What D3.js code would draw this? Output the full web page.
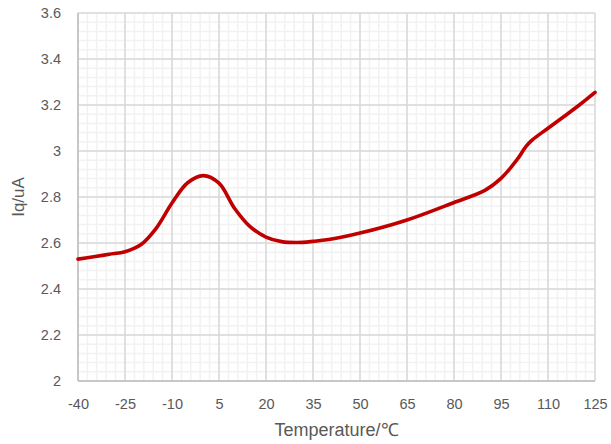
<!DOCTYPE html>
<html><head><meta charset="utf-8">
<script src="https://cdn.jsdelivr.net/npm/d3@7"></script>
<style>body{margin:0;background:#fff}svg{display:block}</style>
</head><body>
<svg id="c" width="611" height="444"></svg>
<script>
const temps = [-40,-35,-30,-25,-20,-15,-10,-5,0,5,10,15,20,25,30,35,40,50,65,80,90,95,100,103,105,110,115,120,125];
const iq    = [2.53,2.54,2.551,2.562,2.592,2.665,2.774,2.862,2.893,2.86,2.75,2.67,2.626,2.606,2.602,2.607,2.615,2.643,2.70,2.776,2.83,2.881,2.96,3.02,3.048,3.099,3.149,3.2,3.255];
const xTicks = [-40,-25,-10,5,20,35,50,65,80,95,110,125];
const yTicks = [2,2.2,2.4,2.6,2.8,3,3.2,3.4,3.6];

const svg = d3.select("#c");
const L=78, R=595, T=13, B=381;
const x = d3.scaleLinear().domain([-40,125]).range([L,R]);
const y = d3.scaleLinear().domain([2,3.6]).range([B,T]);

const g = svg.append("g");
const xMinor = d3.range(-40,125.001,3);
const yMinor = d3.range(0,41).map(i=>2+i*0.04);
g.selectAll(".mx").data(xMinor).enter().append("line")
 .attr("x1",d=>x(d)).attr("x2",d=>x(d)).attr("y1",T).attr("y2",B)
 .attr("stroke","#f2f2f2").attr("stroke-width",1.5);
g.selectAll(".my").data(yMinor).enter().append("line")
 .attr("y1",d=>y(d)).attr("y2",d=>y(d)).attr("x1",L).attr("x2",R)
 .attr("stroke","#f2f2f2").attr("stroke-width",1.5);
g.selectAll(".Mx").data(xTicks).enter().append("line")
 .attr("x1",d=>x(d)).attr("x2",d=>x(d)).attr("y1",T).attr("y2",B)
 .attr("stroke","#d9d9d9").attr("stroke-width",1.5);
g.selectAll(".My").data(yTicks).enter().append("line")
 .attr("y1",d=>y(d)).attr("y2",d=>y(d)).attr("x1",L).attr("x2",R)
 .attr("stroke","#d9d9d9").attr("stroke-width",1.5);
g.append("line").attr("x1",L).attr("x2",L).attr("y1",T).attr("y2",B).attr("stroke","#bfbfbf").attr("stroke-width",1.5);
g.append("line").attr("x1",L).attr("x2",R).attr("y1",B).attr("y2",B).attr("stroke","#bfbfbf").attr("stroke-width",1.5);

const xAxis = d3.axisBottom(x).tickValues(xTicks).tickSize(0).tickPadding(18).tickFormat(d=>d);
const yAxis = d3.axisLeft(y).tickValues(yTicks).tickSize(0).tickPadding(17).tickFormat(d=>d);
const ax = svg.append("g").attr("transform",`translate(0,${B})`).call(xAxis);
const ay = svg.append("g").attr("transform",`translate(${L},0)`).call(yAxis);
[ax,ay].forEach(a=>{a.select(".domain").remove();
 a.selectAll("text").attr("fill","#595959").style("font-family","'Liberation Sans',Arial,sans-serif").style("font-size","14.5px");});

const line = d3.line().x((d,i)=>x(temps[i])).y(d=>y(d)).curve(d3.curveCatmullRom.alpha(0.5));
svg.append("path").datum(iq).attr("d",line).attr("fill","none")
 .attr("stroke","#c00000").attr("stroke-width",3.6).attr("stroke-linejoin","round").attr("stroke-linecap","round");

svg.append("text").attr("x",(L+R)/2).attr("y",436).attr("text-anchor","middle")
 .attr("fill","#595959").style("font-family","'Liberation Sans',Arial,sans-serif").style("font-size","18px").text("Temperature/℃");
svg.append("text").attr("transform",`translate(24,${(T+B)/2}) rotate(-90)`).attr("text-anchor","middle")
 .attr("fill","#595959").style("font-family","'Liberation Sans',Arial,sans-serif").style("font-size","17px").text("Iq/uA");
</script>
</body></html>
